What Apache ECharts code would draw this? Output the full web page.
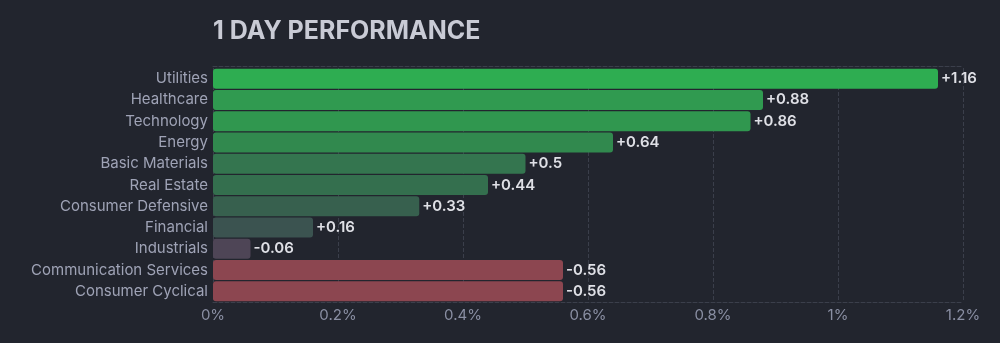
<!DOCTYPE html>
<html><head><meta charset="utf-8">
<script src="https://cdn.jsdelivr.net/npm/echarts@6/dist/echarts.min.js"></script>
<style>html,body{margin:0;padding:0;background:#22252e}#c{width:1000px;height:343px}</style>
</head><body><div id="c"></div>
<script>
const categories = ["Utilities","Healthcare","Technology","Energy","Basic Materials","Real Estate","Consumer Defensive","Financial","Industrials","Communication Services","Consumer Cyclical"];
const changes = [1.16, 0.88, 0.86, 0.64, 0.5, 0.44, 0.33, 0.16, -0.06, -0.56, -0.56];
const barColors = ["#2ead51","#309a50","#30974f","#31894e","#34754f","#346f4e","#37604e","#3b5350","#4e4556","#8c4650","#8c4650"];
const tickLabels = ["0%","0.2%","0.4%","0.6%","0.8%","1%","1.2%"];
const titleText = "1 DAY PERFORMANCE";

const chart = echarts.init(document.getElementById('c'), null, {renderer:'canvas'});
const fontFamily = 'Inter, "Noto Sans", sans-serif';
chart.setOption({
  backgroundColor: '#22252e',
  animation: false,
  title: {text: titleText, left: 208, top: 14, textStyle: {color: '#c9cbd5', fontSize: 25, fontWeight: 'bold', fontFamily}},
  grid: {left: 213, right: 37, top: 68, bottom: 41, containLabel: false},
  xAxis: [{
    type: 'value', min: 0, max: 1.2, interval: 0.2, position: 'bottom',
    axisLine: {show: true, lineStyle: {color: '#3b3f4b', type: 'dashed'}},
    axisTick: {show: false},
    splitLine: {show: true, lineStyle: {color: '#3b3f4b', type: 'dashed'}},
    axisLabel: {color: '#8a8fa3', fontSize: 15, fontFamily, margin: 6,
      formatter: v => tickLabels[Math.round(v / 0.2)]}
  },{
    type: 'value', min: 0, max: 1.2, interval: 0.2, position: 'top', offset: 2,
    axisLine: {show: true, lineStyle: {color: '#3b3f4b', type: 'dashed'}},
    axisTick: {show: false}, splitLine: {show: false}, axisLabel: {show: false}
  }],
  yAxis: {
    type: 'category', data: categories, inverse: true,
    axisLine: {show: false}, axisTick: {show: false}, splitLine: {show: false},
    axisLabel: {color: '#9fa3b6', fontSize: 15, fontFamily, margin: 5}
  },
  series: [{
    type: 'bar', xAxisIndex: 0,
    barCategoryGap: '6%',
    data: changes.map((v, i) => ({value: Math.abs(v), itemStyle: {color: barColors[i], borderRadius: 3}})),
    label: {show: true, position: 'right', distance: 3, color: '#dfe0e6', fontSize: 15, fontWeight: 600, fontFamily,
      formatter: p => (changes[p.dataIndex] > 0 ? '+' : '') + changes[p.dataIndex]}
  }]
});
</script></body></html>
